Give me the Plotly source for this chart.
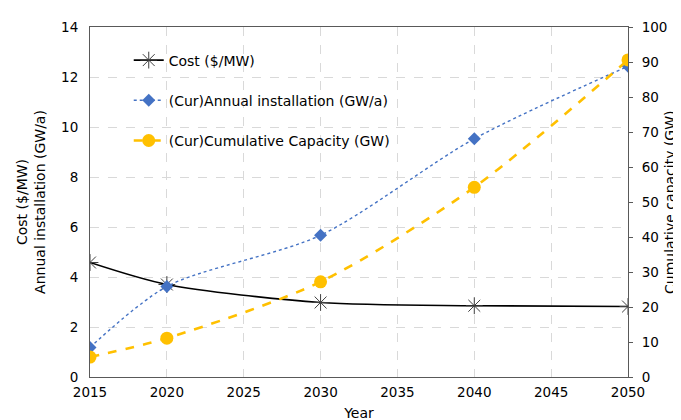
import plotly.graph_objects as go

years = [2015, 2020, 2030, 2040, 2050]
cost = [4.58, 3.7, 2.98, 2.85, 2.82]
annual_install = [1.18, 3.62, 5.67, 9.53, 12.43]
cumulative_capacity = [5.7, 11.1, 27.2, 54.2, 90.6]

left_ticks = [0, 2, 4, 6, 8, 10, 12, 14]
right_ticks = [0, 10, 20, 30, 40, 50, 60, 70, 80, 90, 100]
x_ticks = [2015, 2020, 2025, 2030, 2035, 2040, 2045, 2050]

FONT = "DejaVu Sans"

fig = go.Figure()
fig.add_trace(go.Scatter(
    x=years, y=cost, name="Cost ($/MW)", mode="lines+markers",
    line=dict(color="#000000", width=1.6, shape="spline", smoothing=0.8),
    marker=dict(symbol="asterisk-open", size=14, color="#404040",
                line=dict(color="#404040", width=1)),
    legendgroup="a", yaxis="y"))
fig.add_trace(go.Scatter(
    x=years, y=annual_install, name="(Cur)Annual installation (GW/a)", mode="lines+markers",
    line=dict(color="#4472C4", width=1.4, dash="dot", shape="spline", smoothing=0.8),
    marker=dict(symbol="diamond", size=10, color="#4472C4"),
    legendgroup="b", yaxis="y"))
fig.add_trace(go.Scatter(
    x=years, y=cumulative_capacity, name="(Cur)Cumulative Capacity (GW)", mode="lines+markers",
    line=dict(color="#FFC000", width=2.6, dash="dash", shape="spline", smoothing=0.8),
    marker=dict(symbol="circle", size=13, color="#FFC000"),
    legendgroup="c", yaxis="y2"))

tick_font = dict(family=FONT, size=13.5, color="#000000")
title_font = dict(family=FONT, size=14, color="#000000")
fig.update_layout(
    width=681, height=420,
    margin=dict(l=82, r=61, t=19, b=51),
    paper_bgcolor="white", plot_bgcolor="white",
    font=dict(family=FONT, size=14, color="#000000"),
    showlegend=True,
    legend=dict(x=0.072, y=0.95, xanchor="left", yanchor="top",
                bgcolor="rgba(0,0,0,0)", tracegroupgap=19,
                font=dict(family=FONT, size=14), itemwidth=30),
    xaxis=dict(range=[2015, 2050], tickvals=x_ticks, showgrid=True,
               gridcolor="#D9D9D9", griddash="dash", gridwidth=1,
               showline=True, linecolor="#595959", linewidth=1, mirror=True,
               ticks="", tickfont=tick_font, zeroline=False, automargin=False,
               ticklabelstandoff=3,
               title=dict(text="Year", font=title_font, standoff=8)),
    yaxis=dict(range=[0, 14], tickvals=left_ticks, showgrid=True,
               gridcolor="#D9D9D9", griddash="dash", gridwidth=1,
               showline=True, linecolor="#595959", linewidth=1,
               ticks="", tickfont=tick_font, zeroline=False, automargin=False,
               ticklabelstandoff=8,
               title=dict(text="Cost ($/MW)<br>Annual installation (GW/a)",
                          font=title_font, standoff=12)),
    yaxis2=dict(range=[0, 100], tickvals=right_ticks, overlaying="y", side="right",
                showgrid=False, showline=True, linecolor="#595959", linewidth=1,
                ticks="outside", ticklen=4, tickcolor="#595959",
                tickfont=tick_font, zeroline=False, automargin=False,
                ticklabelstandoff=6),
    annotations=[dict(text="Cumulative capacity (GW)", xref="paper", yref="paper",
                      x=1, y=0.5, xanchor="right", yanchor="middle",
                      xshift=52, textangle=-90, showarrow=False, font=title_font)],
)

fig.write_html("out.html")
